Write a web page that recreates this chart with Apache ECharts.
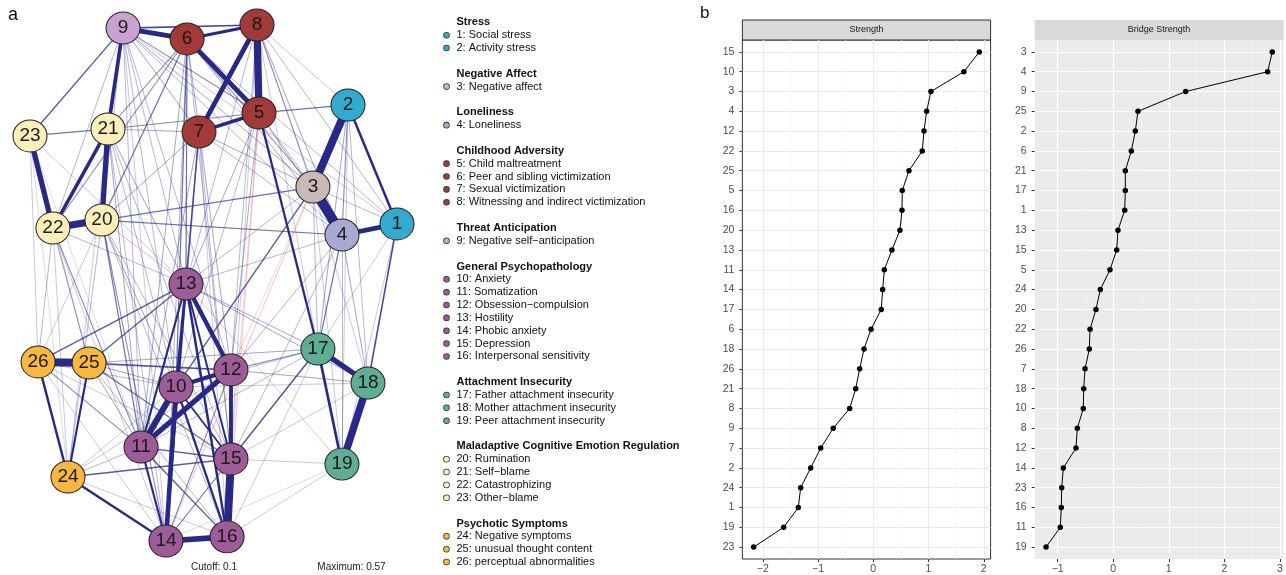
<!DOCTYPE html>
<html>
<head>
<meta charset="utf-8">
<script src="https://cdn.jsdelivr.net/npm/echarts@6/dist/echarts.min.js"></script>
<style>
html,body{margin:0;padding:0;background:#fff;}
#chart{width:1286px;height:575px;}
</style>
</head>
<body>
<div id="chart"></div>
<script>
// ---------- DATA ----------
// Network layout (qgraph-style normalized coordinates, -1..1)
const nodeIds = ['1','2','3','4','5','6','7','8','9','10','11','12','13','14','15','16','17','18','19','20','21','22','23','24','25','26'];
const layoutX = [1.000,0.733,0.542,0.700,0.248,-0.144,-0.079,0.237,-0.493,-0.204,-0.395,0.095,-0.150,-0.259,0.095,0.074,0.569,0.842,0.700,-0.608,-0.575,-0.875,-1.000,-0.793,-0.678,-0.956];
const layoutY = [0.229,0.690,0.372,0.186,0.659,0.946,0.585,1.000,0.988,-0.403,-0.636,-0.337,-0.004,-1.000,-0.682,-0.984,-0.256,-0.388,-0.702,0.244,0.597,0.213,0.570,-0.752,-0.310,-0.306];
const nodeGroup = [0,0,1,2,3,3,3,3,4,5,5,5,5,5,5,5,6,6,6,7,7,7,7,8,8,8];

// Legend groups
const groupNames = ['Stress','Negative Affect','Loneliness','Childhood Adversity','Threat Anticipation','General Psychopathology','Attachment Insecurity','Maladaptive Cognitive Emotion Regulation','Psychotic Symptoms'];
const groupColors = ['#33ABCF','#C8B8B8','#AAA9D6','#A23A39','#C8A2D0','#9D5B97','#5FAE93','#FCEFB9','#F7B740'];
const itemLabels = ['1: Social stress','2: Activity stress','3: Negative affect','4: Loneliness','5: Child maltreatment','6: Peer and sibling victimization','7: Sexual victimization','8: Witnessing and indirect victimization','9: Negative self\u2212anticipation','10: Anxiety','11: Somatization','12: Obsession\u2212compulsion','13: Hostility','14: Phobic anxiety','15: Depression','16: Interpersonal sensitivity','17: Father attachment insecurity','18: Mother attachment insecurity','19: Peer attachment insecurity','20: Rumination','21: Self\u2212blame','22: Catastrophizing','23: Other\u2212blame','24: Negative symptoms','25: unusual thought content','26: perceptual abnormalities'];

// Edges: [from, to, partial correlation]
const edges = [
 [3,4,0.57],[2,3,0.45],[15,16,0.45],[26,25,0.45],[8,5,0.42],[18,19,0.42],[22,20,0.40],
 [10,11,0.35],[14,16,0.32],[23,22,0.30],[11,12,0.30],[21,20,0.30],[17,18,0.30],
 [9,6,0.27],[6,5,0.27],[8,7,0.27],[4,1,0.27],[10,14,0.26],[13,12,0.25],[10,12,0.24],
 [12,15,0.22],[9,21,0.21],[21,22,0.20],[7,5,0.20],[6,8,0.17],[13,10,0.15],[17,19,0.15],
 [2,1,0.14],[26,24,0.14],[13,16,0.14],[5,17,0.13],[24,14,0.13],[10,16,0.13],[25,24,0.12],
 [13,11,0.12],[13,14,0.12],[13,15,0.11],[11,14,0.12],[10,15,0.10],
 [9,8,0.09],[1,18,0.09],[9,23,0.08],[21,23,0.07],[2,5,0.07],[20,3,0.07],[20,4,0.07],
 [26,13,0.08],[25,13,0.08],[25,12,0.08],[25,15,0.07],[24,15,0.08],[11,15,0.08],[11,16,0.08],
 [10,3,0.08],[15,17,0.08],[7,13,0.08],[6,13,0.07],[6,10,0.07],[6,20,0.07],[6,22,0.06],
 [6,21,0.06],[6,3,0.06],[8,3,0.06],[9,5,0.06],[9,3,0.05],[5,21,0.06],[4,17,0.07],[2,4,0.06],
 [2,17,0.05],[20,11,0.07],[20,14,0.06],[20,10,0.05],[22,11,0.06],[22,25,0.05],[26,11,0.06],
 [12,17,0.06],[25,17,0.05],[13,17,0.05],[13,18,0.05],[12,18,0.05],[7,10,0.05],[7,11,0.05],
 [7,3,0.05],[9,7,0.05],[6,4,0.05],[8,4,0.05],[6,1,0.04],[8,1,0.04],[8,2,0.03],[9,10,0.04],
 [9,13,0.04],[21,13,0.05],[21,15,0.04],[21,10,0.04],[22,26,0.04],[23,26,0.03],[23,25,0.03],
 [20,24,0.04],[16,19,0.03],[14,19,0.02],[24,11,0.04],[26,10,0.04],[25,10,0.05],[25,11,0.05],
 [25,16,0.04],[12,14,0.06],[12,16,0.07],[15,14,0.06],[11,17,0.04],[4,13,0.04],[3,13,0.04],
 [3,1,0.04],[3,17,0.04],[3,18,0.03],[4,18,0.05],[2,18,0.04],[1,17,0.03],[5,4,0.05],[5,3,0.04],
 [5,13,0.05],[7,4,0.04],[7,21,0.05],[7,20,0.05],[9,20,0.04],[9,22,0.04],[9,4,0.04],[9,1,0.03],
 [8,17,0.03],[19,15,0.03],[17,10,0.04],[18,10,0.03],
 [23,24,0.02],[23,11,0.02],[22,24,0.03],[22,14,0.03],[21,24,0.03],[21,11,0.05],[21,14,0.04],
 [20,26,0.03],[20,16,0.04],[20,15,0.04],[9,11,0.04],[9,14,0.03],[9,12,0.04],[6,11,0.05],
 [6,14,0.04],[6,12,0.05],[6,15,0.04],[8,13,0.04],[8,12,0.04],[8,15,0.03],[5,10,0.04],[5,12,0.05],
 [7,14,0.04],[7,15,0.04],[7,16,0.03],[4,12,0.04],[4,15,0.04],[4,19,0.04],[1,19,0.03],[2,19,0.03],
 [3,19,0.03],[17,16,0.03],[17,14,0.03],[18,15,0.03],[26,12,0.04],[26,15,0.03],[24,16,0.03],
 [24,12,0.03],[24,10,0.03],[26,14,0.03],[22,13,0.04],[23,13,0.03],
 [20,13,-0.05],[5,16,-0.04],[3,14,-0.04],[13,19,-0.04],[5,15,-0.03],[3,12,-0.03]
];
const cutoff = 0.1, maxWeight = 0.57;

// Centrality (z-scores)
const strengthCats = ['15','10','3','4','12','22','25','5','16','20','13','11','14','17','6','18','26','21','8','9','7','2','24','1','19','23'];
const strengthVals = [1.92,1.64,1.044,0.966,0.918,0.887,0.646,0.525,0.52,0.483,0.338,0.2,0.17,0.145,-0.04,-0.168,-0.246,-0.318,-0.427,-0.724,-0.952,-1.133,-1.314,-1.357,-1.622,-2.165];
const bridgeCats = ['3','4','9','25','2','6','21','17','1','13','15','5','24','20','22','26','7','18','10','8','12','14','23','16','11','19'];
const bridgeVals = [2.863,2.78,1.305,0.446,0.398,0.326,0.218,0.218,0.207,0.086,0.063,-0.058,-0.232,-0.31,-0.417,-0.43,-0.507,-0.531,-0.538,-0.646,-0.67,-0.898,-0.927,-0.934,-0.952,-1.209];
const xTicksStrength = [-2,-1,0,1,2];
const xMinorStrength = [-1.5,-0.5,0.5,1.5];
const xTicksBridge = [-1,0,1,2,3];
const xMinorBridge = [-0.5,0.5,1.5,2.5];

// ---------- BUILD ----------
const FONT = '"Liberation Sans", Arial, Helvetica, sans-serif';
const chart = echarts.init(document.getElementById('chart'), null, {renderer: 'canvas'});

const nodes = nodeIds.map((id, i) => ({
  name: id,
  value: [layoutX[i], layoutY[i]],
  itemStyle: {color: groupColors[nodeGroup[i]], borderColor: '#222', borderWidth: 1}
}));

const sortedEdges = edges.slice().sort((a, b) => Math.abs(a[2]) - Math.abs(b[2]));
const links = sortedEdges.map(e => {
  const w = Math.abs(e[2]);
  const alpha = w >= cutoff ? 1 : Math.max(0.15, (w / cutoff) * 0.95);
  const rgb = e[2] >= 0 ? '40,40,135' : '225,80,80';
  return {
    source: String(e[0]), target: String(e[1]),
    lineStyle: {width: Math.max(0.9, w / maxWeight * 10), color: 'rgba(' + rgb + ',' + alpha.toFixed(3) + ')', opacity: 1, curveness: 0}
  };
});

// Legend rich text
const rich = {
  t: {fontFamily: FONT, fontSize: 11, fontWeight: 'bold', color: '#111', lineHeight: 12.85},
  i: {fontFamily: FONT, fontSize: 11, color: '#111', lineHeight: 12.85},
  pad: {width: 12.5, lineHeight: 12.85},
  gap: {width: 7.5, lineHeight: 12.85}
};
groupColors.forEach((c, g) => {
  rich['c' + g] = {width: 5, height: 5, borderRadius: 2.5, backgroundColor: c, borderColor: '#333', borderWidth: 0.8, lineHeight: 12.85};
});
const legendLines = [];
groupNames.forEach((gname, g) => {
  if (g > 0) legendLines.push('{i| }');
  legendLines.push('{pad| }{t|' + gname + '}');
  itemLabels.forEach((lab, k) => {
    if (nodeGroup[k] === g) legendLines.push('{c' + g + '| }{gap| }{i|' + lab + '}');
  });
});

const minusFmt = v => (v < 0 ? '\u2212' + Math.abs(v) : String(v));

function dotAxes(gridIndex, cats, ticks, minor, min, max, majorColor, minorColor, labelMargin) {
  return {
    x: [
      {gridIndex, type: 'value', min, max, position: 'bottom',
       axisLine: {show: false, onZero: false},
       axisTick: {show: true, length: 3, lineStyle: {color: '#333', width: 1}, customValues: ticks},
       axisLabel: {show: true, customValues: ticks, formatter: minusFmt, margin: 5, color: '#4D4D4D', fontSize: 10.5, fontFamily: FONT},
       splitLine: {show: true, lineStyle: {color: majorColor, width: 1.2}}},
      {gridIndex, type: 'value', min, max, position: 'bottom',
       axisLine: {show: false, onZero: false},
       axisTick: {show: false, customValues: minor},
       axisLabel: {show: false, customValues: minor},
       splitLine: {show: true, lineStyle: {color: minorColor, width: 0.6}}}
    ],
    y: {gridIndex, type: 'value', min: -0.6, max: cats.length - 0.4, inverse: true, position: 'left',
        axisLine: {show: false, onZero: false},
        axisTick: {show: true, length: 3, lineStyle: {color: '#333', width: 1}, customValues: cats.map((c, i) => i)},
        axisLabel: {show: true, customValues: cats.map((c, i) => i), formatter: v => cats[Math.round(v)], margin: labelMargin, color: '#4D4D4D', fontSize: 10.5, fontFamily: FONT},
        splitLine: {show: true, lineStyle: {color: majorColor, width: 1.2}}}
  };
}

const sAx = dotAxes(1, strengthCats, xTicksStrength, xMinorStrength, -2.369, 2.124, '#EBEBEB', '#F3F3F3', 8);
const bAx = dotAxes(2, bridgeCats, xTicksBridge, xMinorBridge, -1.413, 3.067, '#FFFFFF', '#F7F7F7', 8);

const option = {
  animation: false,
  backgroundColor: '#ffffff',
  title: {
    text: legendLines.join('\n'),
    left: 444, top: 15.9, padding: 0,
    textStyle: {fontFamily: FONT, fontSize: 11, lineHeight: 12.85, color: '#111', fontWeight: 'normal', rich: rich}
  },
  grid: [
    {left: 30, right: 889, top: 25, bottom: 34, show: false},
    {left: 742.4, right: 295.4, top: 40, bottom: 16, show: true, backgroundColor: '#FFFFFF', borderColor: '#333', borderWidth: 1, z: 0},
    {left: 1034.7, right: 2.4, top: 40, bottom: 16, show: true, backgroundColor: '#EBEBEB', borderWidth: 0, z: 0}
  ],
  xAxis: [
    {gridIndex: 0, type: 'value', min: -1, max: 1, show: false},
    sAx.x[0], sAx.x[1], bAx.x[0], bAx.x[1]
  ],
  yAxis: [
    {gridIndex: 0, type: 'value', min: -1, max: 1, show: false},
    sAx.y, bAx.y
  ],
  graphic: [
    {type: 'text', left: 8, top: 6, style: {text: 'a', font: '18px ' + FONT, fill: '#111'}},
    {type: 'text', left: 700, top: 5, style: {text: 'b', font: '17px ' + FONT, fill: '#111'}},
    {type: 'text', x: 214, y: 567, style: {text: 'Cutoff: 0.1', font: '10px ' + FONT, fill: '#222', align: 'center', verticalAlign: 'middle'}},
    {type: 'text', x: 351.5, y: 567, style: {text: 'Maximum: 0.57', font: '10px ' + FONT, fill: '#222', align: 'center', verticalAlign: 'middle'}},
    {type: 'rect', shape: {x: 742.4, y: 20, width: 248.2, height: 20}, style: {fill: '#D9D9D9', stroke: '#333', lineWidth: 1}},
    {type: 'text', x: 866.5, y: 30, style: {text: 'Strength', font: '9px ' + FONT, fill: '#1A1A1A', align: 'center', verticalAlign: 'middle'}},
    {type: 'rect', shape: {x: 1034.7, y: 20, width: 248.9, height: 20}, style: {fill: '#D9D9D9'}},
    {type: 'text', x: 1159, y: 30, style: {text: 'Bridge Strength', font: '9px ' + FONT, fill: '#1A1A1A', align: 'center', verticalAlign: 'middle'}}
  ],
  series: [
    {
      type: 'graph', coordinateSystem: 'cartesian2d', xAxisIndex: 0, yAxisIndex: 0,
      layout: 'none', roam: false, silent: true,
      symbol: 'circle', symbolSize: [34, 32],
      edgeSymbol: ['none', 'none'],
      label: {show: true, position: 'inside', fontSize: 19, fontFamily: FONT, color: '#1a1a1a'},
      lineStyle: {curveness: 0},
      emphasis: {disabled: true},
      data: nodes,
      links: links
    },
    {
      type: 'line', xAxisIndex: 1, yAxisIndex: 1, silent: true,
      data: strengthVals.map((v, i) => [v, i]),
      symbol: 'circle', symbolSize: 5.5,
      itemStyle: {color: '#000'}, lineStyle: {color: '#000', width: 1}, z: 5
    },
    {
      type: 'line', xAxisIndex: 3, yAxisIndex: 2, silent: true,
      data: bridgeVals.map((v, i) => [v, i]),
      symbol: 'circle', symbolSize: 5.5,
      itemStyle: {color: '#000'}, lineStyle: {color: '#000', width: 1}, z: 5
    }
  ]
};
chart.setOption(option);
</script>
</body>
</html>
